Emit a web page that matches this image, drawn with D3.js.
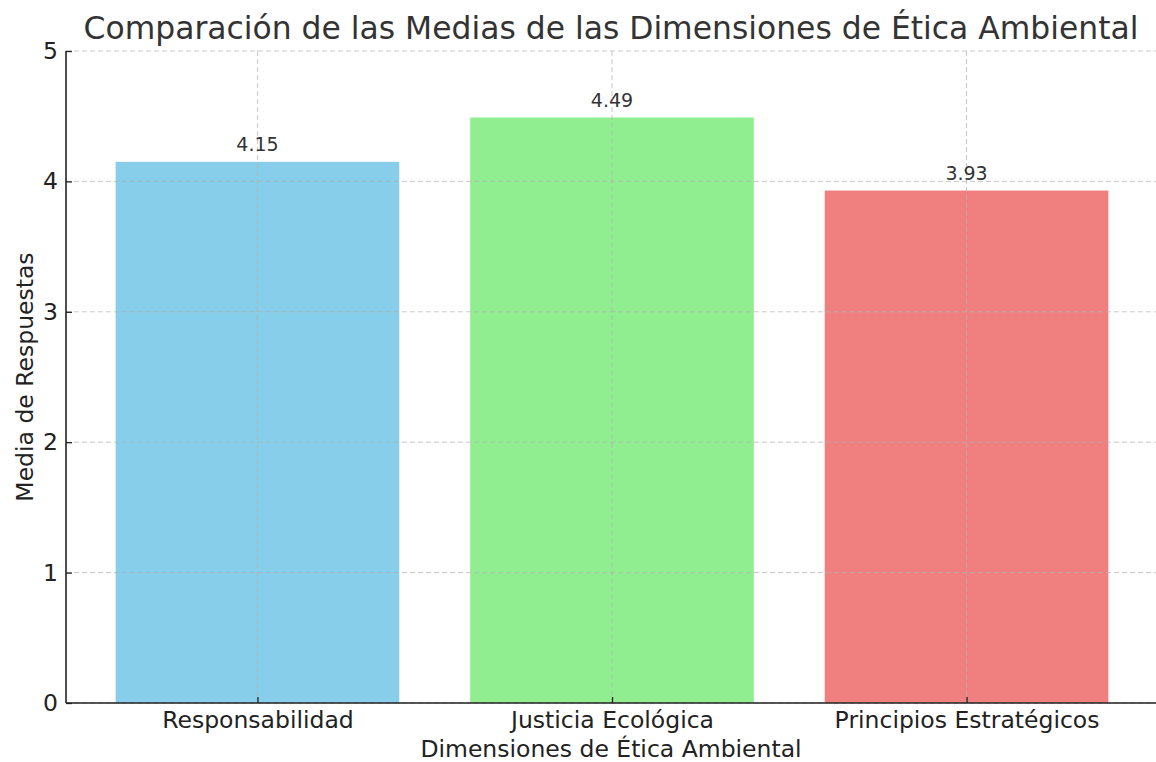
<!DOCTYPE html>
<html><head><meta charset="utf-8">
<script src="https://cdn.jsdelivr.net/npm/d3@7"></script>
<style>body{margin:0;background:#fff;} text{font-family:"DejaVu Sans",sans-serif;}</style>
</head><body>
<svg id="c" width="1156" height="762"></svg>
<script>
const categories = ["Responsabilidad", "Justicia Ecológica", "Principios Estratégicos"];
const means = [4.15, 4.49, 3.93];
const colors = ["#87CEEB", "#90EE90", "#F08080"];
const yTicks = [0, 1, 2, 3, 4, 5];
const valueLabels = ["4.15", "4.49", "3.93"];

const svg = d3.select("#c");
const L = 66, R = 1158, T = 51, B = 703;
const x = d3.scaleLinear().domain([-0.54, 2.54]).range([L, R]);
const y = d3.scaleLinear().domain([0, 5]).range([B, T]);
const bw = x(0.8) - x(0);

svg.append("g").selectAll("rect").data(means).join("rect")
  .attr("x", (d, i) => x(i - 0.4)).attr("width", bw)
  .attr("y", d => y(d)).attr("height", d => B - y(d))
  .attr("fill", (d, i) => colors[i]);

// grid
const grid = svg.append("g").attr("stroke", "#b0b0b0").attr("stroke-opacity", 0.7)
  .attr("stroke-dasharray", "5,3").attr("stroke-width", 1);
grid.selectAll("line.h").data(yTicks).join("line")
  .attr("x1", L).attr("x2", R).attr("y1", d => y(d)).attr("y2", d => y(d));
grid.selectAll("line.v").data(categories).join("line")
  .attr("x1", (d, i) => x(i)).attr("x2", (d, i) => x(i)).attr("y1", T).attr("y2", B);

// axes (ticks point inward)
const yAxis = d3.axisLeft(y).tickValues(yTicks).tickFormat(d3.format("d")).tickSize(-6).tickPadding(8);
const gy = svg.append("g").attr("transform", `translate(${L},0)`).call(yAxis);
const xAxis = d3.axisBottom(x).tickValues([0, 1, 2]).tickFormat(i => categories[i]).tickSize(-6).tickPadding(8);
const gx = svg.append("g").attr("transform", `translate(0,${B})`).call(xAxis);
[gy, gx].forEach(g => {
  g.select(".domain").attr("stroke", "#222").attr("stroke-width", 1.6);
  g.selectAll(".tick line").attr("stroke", "#222").attr("stroke-width", 1.3);
  g.selectAll(".tick text").attr("fill", "#222").style("font-size", "23.5px");
});
gy.select(".domain").attr("d", `M0,${T}V${B}`);
gx.select(".domain").attr("d", `M${L},0H${R}`);

// value labels
svg.append("g").selectAll("text").data(means).join("text")
  .attr("x", (d, i) => x(i)).attr("y", d => y(d + 0.05) - 4)
  .attr("text-anchor", "middle").attr("fill", "#333").style("font-size", "19px")
  .text((d, i) => valueLabels[i]);

svg.append("text").attr("x", 611).attr("y", 39).attr("text-anchor", "middle")
  .attr("fill", "#333").style("font-size", "31.4px")
  .text("Comparación de las Medias de las Dimensiones de Ética Ambiental");
svg.append("text").attr("x", 611).attr("y", 757).attr("text-anchor", "middle")
  .attr("fill", "#222").style("font-size", "23.5px").text("Dimensiones de Ética Ambiental");
svg.append("text").attr("transform", `translate(33,${(T + B) / 2}) rotate(-90)`).attr("text-anchor", "middle")
  .attr("fill", "#222").style("font-size", "23.5px").text("Media de Respuestas");
</script>
</body></html>
